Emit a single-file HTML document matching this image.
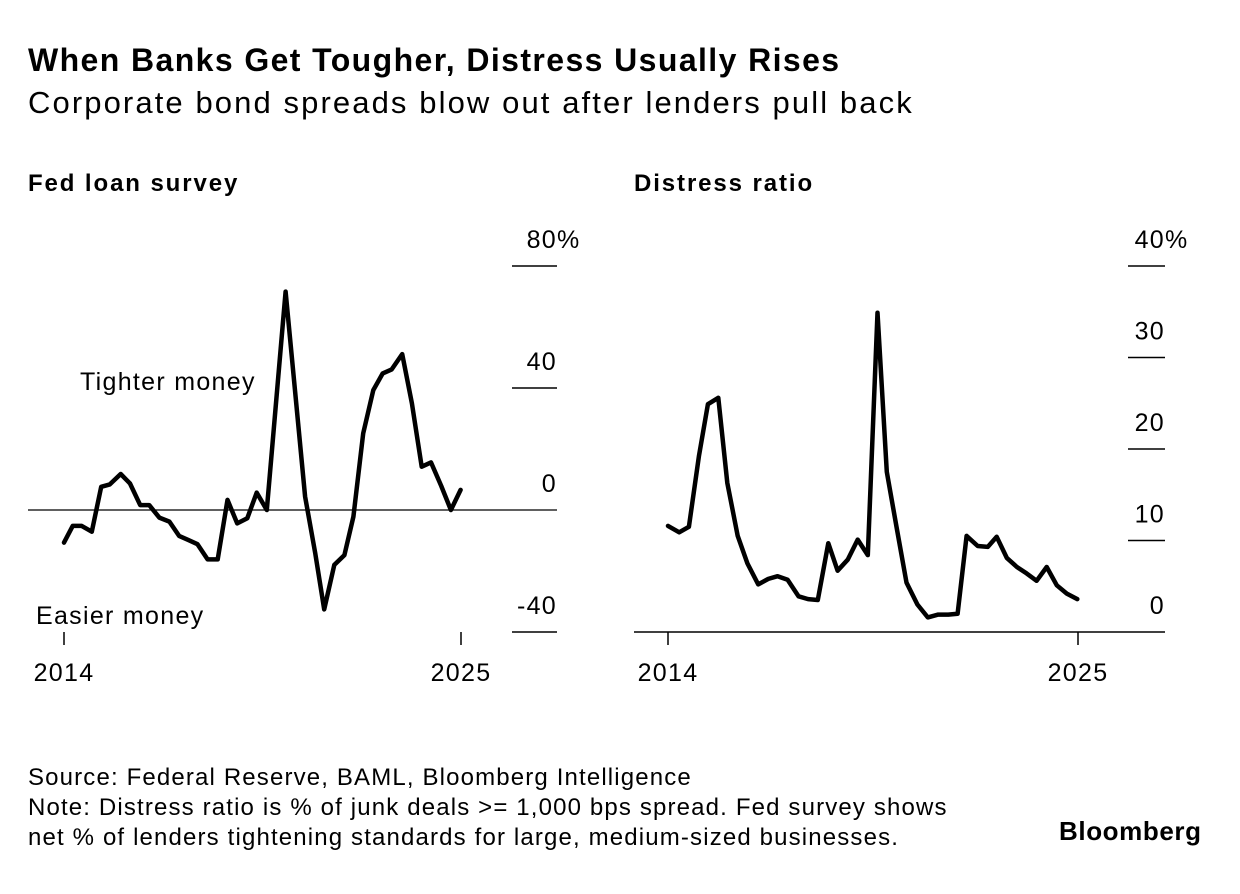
<!DOCTYPE html>
<html><head><meta charset="utf-8"><style>
body{margin:0;background:#fff;font-family:"Liberation Sans",sans-serif;color:#000}
#wrap{position:relative;width:1240px;height:894px;overflow:hidden}
.t{position:absolute;white-space:nowrap}
</style></head><body>
<div id="wrap">
<div class="t" style="left:28px;top:42px;font-size:32px;font-weight:bold;letter-spacing:1.4px">When Banks Get Tougher, Distress Usually Rises</div>
<div class="t" style="left:28px;top:85px;font-size:31px;letter-spacing:2.1px">Corporate bond spreads blow out after lenders pull back</div>
<div class="t" style="left:28px;top:170px;font-size:24px;font-weight:bold;letter-spacing:1.9px">Fed loan survey</div>
<div class="t" style="left:634px;top:170px;font-size:24px;font-weight:bold;letter-spacing:1.9px">Distress ratio</div>
<svg id="svg" width="1240" height="894" style="position:absolute;left:0;top:0"></svg>
<div class="t" style="left:28px;top:763px;font-size:24px;line-height:30px;letter-spacing:1.15px">Source: Federal Reserve, BAML, Bloomberg Intelligence<br>Note: Distress ratio is % of junk deals &gt;= 1,000 bps spread. Fed survey shows<br>net % of lenders tightening standards for large, medium-sized businesses.</div>
<div class="t" style="left:1059px;top:816px;font-size:26px;font-weight:bold;letter-spacing:0.6px">Bloomberg</div>
</div>
<script>
const leftYears=[2014.0,2014.24,2014.49,2014.77,2015.03,2015.27,2015.57,2015.83,2016.11,2016.36,2016.64,2016.92,2017.19,2017.44,2017.70,2017.98,2018.26,2018.53,2018.80,2019.08,2019.34,2019.62,2020.14,2020.68,2020.96,2021.21,2021.49,2021.77,2022.02,2022.29,2022.57,2022.83,2023.08,2023.37,2023.64,2023.91,2024.17,2024.45,2024.72,2024.99];
const leftValues=[-10.7,-5.2,-5.2,-7.1,7.6,8.4,11.8,8.7,1.6,1.6,-2.5,-3.8,-8.5,-9.8,-11.2,-16.2,-16.2,3.3,-4.4,-2.7,5.7,0,71.6,4.4,-14.1,-32.6,-18,-14.8,-2.2,25.1,39.3,44.8,46.1,51.1,35,14.2,15.6,7.9,0,6.6];
const leftTicks=[80,40,0,-40];
const leftTickLabels=["80%","40","0","-40"];
const rightYears=[2014.0,2014.30,2014.56,2014.83,2015.07,2015.35,2015.59,2015.87,2016.13,2016.42,2016.69,2016.94,2017.21,2017.50,2017.76,2018.02,2018.30,2018.55,2018.82,2019.09,2019.36,2019.62,2019.87,2020.13,2020.40,2020.69,2020.97,2021.25,2021.52,2021.77,2022.01,2022.31,2022.58,2022.82,2023.09,2023.36,2023.62,2023.89,2024.16,2024.43,2024.70,2024.98];
const rightValues=[11.6,10.9,11.5,19.2,24.9,25.6,16.3,10.5,7.5,5.2,5.8,6.1,5.7,3.9,3.6,3.5,9.7,6.7,7.9,10.1,8.4,34.9,17.5,11.5,5.4,3.0,1.6,1.9,1.9,2.0,10.5,9.4,9.3,10.4,8.1,7.1,6.4,5.6,7.1,5.1,4.2,3.6];
const rightTicks=[40,30,20,10,0];
const rightTickLabels=["40%","30","20","10","0"];
const xTicks=[2014,2025];

const svg=document.getElementById('svg');
const NS='http://www.w3.org/2000/svg';
function mk(tag,attrs,name){const e=document.createElementNS(NS,tag);for(const k in attrs)e.setAttribute(k,attrs[k]);


svg.appendChild(e);return e;}
function txt(x,y,s,anchor,name){const e=mk('text',{x:x,y:y,'text-anchor':anchor,'font-size':25,'letter-spacing':1.3,'font-family':'Liberation Sans, sans-serif',fill:'#000'},name);e.textContent=s;return e;}

function panel(cfg){
  const xS=v=>cfg.x0+(v-2014)/11*(cfg.x1-cfg.x0);
  const yS=v=>cfg.yZero-(v-cfg.vZero)*cfg.pxPer;
  cfg.ticks.forEach((t,i)=>{
    const y=yS(t);
    const full=(t===cfg.vZero);
    mk('line',{x1:full?cfg.lineStart:cfg.tickX0,x2:cfg.tickX1,y1:y,y2:y,stroke:'#000','stroke-width':full?cfg.zeroW:1.5},cfg.prefix+'-gridline-'+i);
    const lab=txt(cfg.tickX1,y-18,cfg.labels[i],'end',cfg.prefix+'-y-tick-label');
    if(cfg.labels[i].indexOf('%')>=0){
      lab.textContent=cfg.labels[i].replace('%','');
      const w=lab.getComputedTextLength();
      lab.setAttribute('text-anchor','start');
      lab.setAttribute('x',cfg.tickX1-w);
      lab.textContent=cfg.labels[i];
    }
  });
  xTicks.forEach(yr=>{
    const x=xS(yr);
    mk('line',{x1:x,x2:x,y1:cfg.axisY,y2:cfg.axisY+13,stroke:'#000','stroke-width':1.5},cfg.prefix+'-x-tick');
    txt(x,681,String(yr),'middle',cfg.prefix+'-x-tick-label');
  });
  const d=cfg.years.map((yr,i)=>(i?'L':'M')+xS(yr).toFixed(1)+','+yS(cfg.values[i]).toFixed(1)).join(' ');
  mk('path',{d:d,fill:'none',stroke:'#000','stroke-width':4.5,'stroke-linejoin':'round','stroke-linecap':'round'},cfg.prefix+'-series-line');
}
panel({prefix:'fed',x0:64,x1:461,yZero:510,vZero:0,pxPer:3.05,ticks:leftTicks,labels:leftTickLabels,tickX0:512,tickX1:557,lineStart:28,zeroW:1.2,axisY:632,years:leftYears,values:leftValues});
panel({prefix:'distress',x0:668,x1:1078,yZero:632,vZero:0,pxPer:9.15,ticks:rightTicks,labels:rightTickLabels,tickX0:1128,tickX1:1165,lineStart:634,zeroW:1.5,axisY:632,years:rightYears,values:rightValues});
txt(80,390,'Tighter money','start','tighter-money-annotation');
txt(36,624,'Easier money','start','easier-money-annotation');
</script>
</body></html>
